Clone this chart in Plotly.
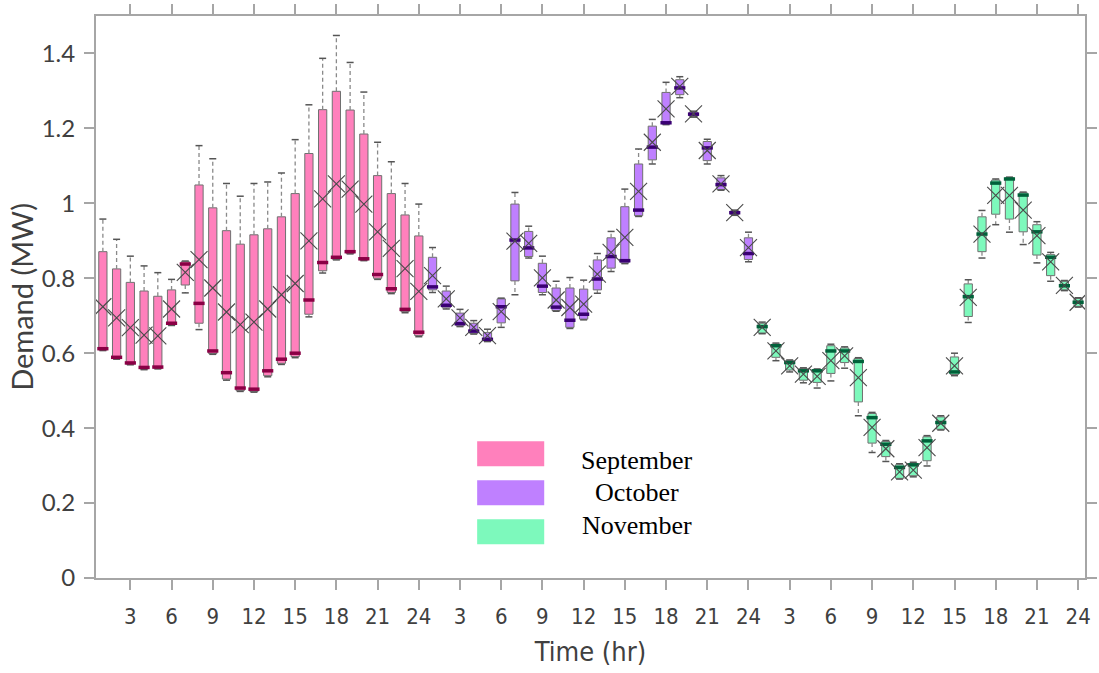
import plotly.graph_objects as go

# ---------------- data ----------------
hours = list(range(1, 25))
months = ["September", "October", "November"]
month_offsets = [0, 24, 48]

sep_lo = [0.607, 0.584, 0.569, 0.556, 0.558, 0.674, 0.761, 0.663, 0.597, 0.528, 0.498, 0.496,
          0.537, 0.570, 0.588, 0.697, 0.814, 0.849, 0.865, 0.847, 0.797, 0.759, 0.708, 0.644]
sep_q1 = [0.609, 0.586, 0.571, 0.558, 0.560, 0.676, 0.782, 0.680, 0.599, 0.531, 0.500, 0.498,
          0.540, 0.573, 0.591, 0.704, 0.820, 0.851, 0.867, 0.849, 0.800, 0.762, 0.711, 0.647]
sep_med = [0.612, 0.589, 0.574, 0.562, 0.563, 0.680, 0.838, 0.733, 0.606, 0.548, 0.507, 0.504,
           0.553, 0.584, 0.600, 0.742, 0.842, 0.856, 0.871, 0.852, 0.810, 0.772, 0.717, 0.656]
sep_q3 = [0.871, 0.825, 0.789, 0.766, 0.752, 0.769, 0.844, 1.049, 0.988, 0.927, 0.891, 0.916,
          0.932, 0.964, 1.026, 1.133, 1.250, 1.299, 1.249, 1.185, 1.074, 1.026, 0.969, 0.913]
sep_hi = [0.958, 0.904, 0.859, 0.833, 0.815, 0.797, 0.846, 1.154, 1.119, 1.053, 1.019, 1.053,
          1.057, 1.081, 1.170, 1.263, 1.387, 1.448, 1.376, 1.297, 1.163, 1.111, 1.053, 0.998]
sep_mean = [0.724, 0.694, 0.668, 0.648, 0.646, 0.718, 0.816, 0.850, 0.774, 0.710, 0.676, 0.683,
            0.718, 0.756, 0.786, 0.900, 1.012, 1.052, 1.038, 0.998, 0.924, 0.880, 0.826, 0.765]

oct_lo = [0.762, 0.718, 0.671, 0.651, 0.631, 0.669, 0.756, 0.854, 0.756, 0.712, 0.666, 0.689,
          0.760, 0.818, 0.839, 0.965, 1.105, 1.210, 1.282, 1.230, 1.105, 1.035, 0.968, 0.844]
oct_q1 = [0.769, 0.721, 0.673, 0.653, 0.633, 0.681, 0.793, 0.858, 0.762, 0.714, 0.669, 0.691,
          0.769, 0.827, 0.841, 0.967, 1.116, 1.212, 1.290, 1.232, 1.114, 1.037, 0.970, 0.850]
oct_med = [0.777, 0.728, 0.679, 0.659, 0.637, 0.724, 0.902, 0.881, 0.779, 0.723, 0.688, 0.704,
           0.798, 0.858, 0.847, 0.982, 1.150, 1.215, 1.308, 1.238, 1.148, 1.050, 0.975, 0.866]
oct_q3 = [0.856, 0.766, 0.707, 0.680, 0.655, 0.745, 0.998, 0.925, 0.840, 0.774, 0.774, 0.771,
          0.849, 0.908, 0.991, 1.105, 1.206, 1.296, 1.330, 1.244, 1.165, 1.068, 0.980, 0.908]
oct_hi = [0.882, 0.779, 0.717, 0.687, 0.664, 0.747, 1.029, 0.939, 0.859, 0.792, 0.802, 0.795,
          0.866, 0.925, 1.038, 1.145, 1.224, 1.323, 1.338, 1.246, 1.171, 1.074, 0.982, 0.923]
oct_mean = [0.807, 0.745, 0.694, 0.669, 0.647, 0.711, 0.899, 0.893, 0.801, 0.742, 0.722, 0.731,
            0.811, 0.869, 0.909, 1.032, 1.163, 1.252, 1.312, 1.239, 1.141, 1.052, 0.975, 0.882]

nov_lo = [0.652, 0.580, 0.550, 0.521, 0.507, 0.526, 0.560, 0.433, 0.335, 0.311, 0.264, 0.270,
          0.299, 0.395, 0.540, 0.682, 0.854, 0.943, 0.923, 0.890, 0.841, 0.792, 0.767, 0.723]
nov_q1 = [0.654, 0.589, 0.555, 0.528, 0.522, 0.546, 0.575, 0.470, 0.360, 0.324, 0.266, 0.273,
          0.313, 0.397, 0.543, 0.698, 0.871, 0.971, 0.958, 0.924, 0.862, 0.807, 0.769, 0.725]
nov_med = [0.671, 0.620, 0.575, 0.553, 0.553, 0.606, 0.606, 0.578, 0.428, 0.357, 0.295, 0.302,
           0.366, 0.415, 0.550, 0.751, 0.918, 1.054, 1.065, 1.022, 0.924, 0.856, 0.780, 0.736]
nov_q3 = [0.680, 0.624, 0.580, 0.559, 0.556, 0.620, 0.614, 0.586, 0.439, 0.364, 0.302, 0.306,
          0.377, 0.430, 0.590, 0.785, 0.964, 1.062, 1.068, 1.028, 0.943, 0.863, 0.792, 0.746]
nov_hi = [0.683, 0.627, 0.582, 0.561, 0.558, 0.624, 0.617, 0.588, 0.442, 0.367, 0.305, 0.309,
          0.380, 0.433, 0.600, 0.796, 0.981, 1.065, 1.070, 1.030, 0.951, 0.869, 0.794, 0.748]
nov_mean = [0.669, 0.606, 0.566, 0.544, 0.538, 0.580, 0.593, 0.535, 0.402, 0.345, 0.283, 0.288,
            0.348, 0.413, 0.566, 0.749, 0.918, 1.021, 1.021, 0.982, 0.914, 0.844, 0.781, 0.736]

tick_hours = [3, 6, 9, 12, 15, 18, 21, 24]
tick_vals = [h + off for off in month_offsets for h in tick_hours]
tick_text = [str(h) for off in month_offsets for h in tick_hours]

# ---------------- styles ----------------
fills = ["#FF80BC", "#BF80FF", "#7DF9BC"]
median_colors = ["#8A0045", "#3A0073", "#00613A"]

stats = [
    (sep_lo, sep_q1, sep_med, sep_q3, sep_hi, sep_mean),
    (oct_lo, oct_q1, oct_med, oct_q3, oct_hi, oct_mean),
    (nov_lo, nov_q1, nov_med, nov_q3, nov_hi, nov_mean),
]

fig = go.Figure()

for name, off, fill, mcol, (lo, q1, med, q3, hi, mean) in zip(
        months, month_offsets, fills, median_colors, stats):
    xs = [h + off for h in hours]
    # whiskers (dashed)
    wx, wy = [], []
    for x, a, b, c, d in zip(xs, lo, q1, q3, hi):
        wx += [x, x, None, x, x, None]
        wy += [c, d, None, b, a, None]
    fig.add_trace(go.Scatter(x=wx, y=wy, mode="lines",
                             line=dict(color="#8a8a8a", width=1.3, dash="4px,3px"),
                             showlegend=False, hoverinfo="skip"))
    # whisker caps
    fig.add_trace(go.Scatter(x=xs + xs, y=hi + lo, mode="markers",
                             marker=dict(symbol="line-ew", size=5,
                                         line=dict(color="#555555", width=1.5)),
                             showlegend=False, hoverinfo="skip"))
    # boxes
    fig.add_trace(go.Box(x=xs, q1=q1, median=med, q3=q3,
                         lowerfence=q1, upperfence=q3,
                         name=name, fillcolor=fill,
                         line=dict(color="#707070", width=1),
                         width=0.6, whiskerwidth=0, boxpoints=False,
                         showlegend=False))
    # median band
    fig.add_trace(go.Scatter(x=xs, y=med, mode="markers",
                             marker=dict(symbol="line-ew", size=8,
                                         line=dict(color=mcol, width=3.5)),
                             showlegend=False, hoverinfo="skip"))
    # mean
    fig.add_trace(go.Scatter(x=xs, y=mean, mode="markers",
                             marker=dict(symbol="x-thin", size=17,
                                         line=dict(color="#4a4a4a", width=1.1)),
                             showlegend=False, hoverinfo="skip"))

# legend (manual)
leg_rect_y = [(0.2434, 0.1989), (0.1739, 0.1294), (0.1045, 0.0600)]
leg_text_y = [0.2095, 0.1526, 0.0930]
for name, fill, (y1, y0), ty in zip(months, fills, leg_rect_y, leg_text_y):
    fig.add_shape(type="rect", xref="paper", yref="paper",
                  x0=0.3854, x1=0.4532, y0=y0, y1=y1,
                  fillcolor=fill, line=dict(width=0))
    fig.add_annotation(xref="paper", yref="paper", x=0.547, y=ty,
                       text=name, showarrow=False, xanchor="center", yanchor="middle",
                       font=dict(family="Liberation Serif", size=26, color="black"))

axis_common = dict(showline=True, linecolor="#A6A6A6", linewidth=2, mirror="ticks",
                   ticks="outside", ticklen=10, tickcolor="#A6A6A6", tickwidth=1.5,
                   showgrid=False, zeroline=False, automargin=False)

fig.update_layout(
    width=1099, height=673,
    margin=dict(l=96, r=14, t=16, b=95),
    paper_bgcolor="white", plot_bgcolor="white",
    boxmode="overlay",
    showlegend=False,
    xaxis=dict(range=[0.5, 72.5], tickmode="array", tickvals=tick_vals, ticktext=tick_text,
               tickfont=dict(family="DejaVu Sans Condensed, DejaVu Sans", size=22, color="#404040"),
               ticklabelstandoff=8,
               title=dict(text="Time (hr)", standoff=14,
                          font=dict(family="DejaVu Sans Condensed, DejaVu Sans", size=27, color="#404040")),
               **axis_common),
    yaxis=dict(range=[0, 1.5], tick0=0, dtick=0.2,
               tickfont=dict(family="Lato", size=24, color="#404040"),
               ticklabelstandoff=4,
               title=dict(text="Demand (MW)", standoff=0,
                          font=dict(family="Lato", size=29, color="#404040")),
               **axis_common),
)

fig.write_html("out.html")
